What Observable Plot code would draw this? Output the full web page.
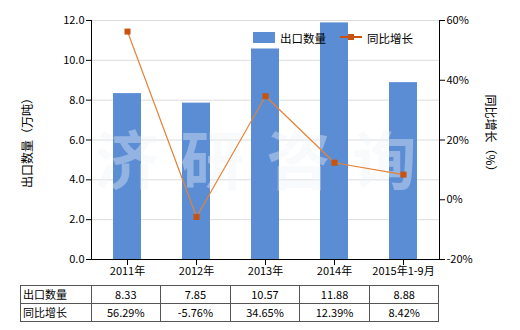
<!DOCTYPE html>
<html>
<head>
<meta charset="utf-8">
<script src="https://cdn.jsdelivr.net/npm/d3@7"></script>
<script src="https://cdn.jsdelivr.net/npm/@observablehq/plot@0.6"></script>
<style>
  html, body { margin: 0; padding: 0; background: #fff; }
  #wrap { position: relative; width: 520px; height: 330px; font-family: "Noto Sans CJK SC", "Noto Sans", sans-serif; color: #000; overflow: hidden; }
  #wrap svg { position: absolute; left: 0; top: 0; }
  .ytitle { position: absolute; font-size: 12px; white-space: nowrap; line-height: 14px; }
  .legend { position: absolute; font-size: 11.5px; line-height: 14px; white-space: nowrap; }
  table.dt { position: absolute; left: 20px; top: 285px; border-collapse: collapse; font-size: 11px; table-layout: fixed; }
  table.dt td { border: 1px solid #555; height: 17px; padding: 0; text-align: center; line-height: 15px; }
  table.dt td.h { text-align: left; padding-left: 2px; }
</style>
</head>
<body>
<div id="wrap"></div>
<script>
const categories = ["2011年", "2012年", "2013年", "2014年", "2015年1-9月"];
const exportVolume = [8.33, 7.85, 10.57, 11.88, 8.88];
const yoyGrowth = [56.29, -5.76, 34.65, 12.39, 8.42];
const volumeLabels = ["8.33", "7.85", "10.57", "11.88", "8.88"];
const growthLabels = ["56.29%", "-5.76%", "34.65%", "12.39%", "8.42%"];
const leftTicks = [0, 2, 4, 6, 8, 10, 12];
const rightTicks = [-20, 0, 20, 40, 60];
const rightTickLabels = ["-20%", "0%", "20%", "40%", "60%"];
const seriesNames = ["出口数量", "同比增长"];
const leftTitle = "出口数量（万吨）";
const rightTitle = "同比增长（%）";
const watermark = "济研咨询";

const barColor = "#5B8DD5";
const lineColor = "#E58235";
const markerColor = "#C8520E";

// map right-axis percentage onto left scale (0..12 <-> -20..60)
const toLeft = p => (p - rightTicks[0]) / (rightTicks[rightTicks.length - 1] - rightTicks[0]) * leftTicks[leftTicks.length - 1];

const data = categories.map((c, i) => ({cat: c, vol: exportVolume[i], pct: yoyGrowth[i], py: toLeft(yoyGrowth[i])}));

const plot = Plot.plot({
  width: 520,
  height: 282,
  marginLeft: 91,
  marginRight: 81,
  marginTop: 20,
  marginBottom: 23,
  style: {fontFamily: '"Noto Sans CJK SC", "Noto Sans", sans-serif', fontSize: "11px", color: "#000", background: "transparent"},
  x: {domain: categories, paddingInner: 0.6, paddingOuter: 0.3, label: null},
  y: {domain: [0, 12], label: null},
  marks: [
    Plot.gridY(leftTicks.slice(1), {stroke: "#dcdcdc", strokeOpacity: 1}),
    Plot.barY(data, {x: "cat", y: "vol", fill: barColor}),
    Plot.text([watermark], {frameAnchor: "middle", dx: 1, dy: 24, fontSize: 64, fontWeight: "bold", fill: "#eef2f6", fillOpacity: 0.38, text: d => d, className: "wm"}),
    Plot.line(data, {x: "cat", y: "py", stroke: lineColor, strokeWidth: 1.2}),
    Plot.dot(data, {x: "cat", y: "py", symbol: "square", r: 3.4, fill: markerColor, stroke: "none"}),
    Plot.axisY({anchor: "left", ticks: leftTicks, tickFormat: d => d.toFixed(1), tickSize: 5, tickPadding: 2, stroke: "#000", label: null}),
    Plot.axisY({anchor: "right", ticks: rightTicks.map(toLeft), tickFormat: (d, i) => rightTickLabels[i], tickSize: 5, tickPadding: 2, label: null}),
    Plot.axisX({tickSize: 6, tickPadding: 2, label: null}),
    Plot.frame({anchor: "left", stroke: "#000"}),
    Plot.frame({anchor: "right", stroke: "#000"}),
    Plot.ruleY([0], {stroke: "#000"})
  ]
});

// wider spacing of watermark characters
plot.querySelectorAll(".wm text").forEach(t => t.setAttribute("letter-spacing", "22"));

const wrap = document.getElementById("wrap");
wrap.appendChild(plot);

// axis titles
const lt = document.createElement("div");
lt.className = "ytitle";
lt.textContent = leftTitle;
wrap.appendChild(lt);
lt.style.left = (27 - lt.offsetWidth / 2) + "px";
lt.style.top = (140 - 7) + "px";
lt.style.transform = "rotate(-90deg)";

const rt = document.createElement("div");
rt.className = "ytitle";
rt.textContent = rightTitle;
wrap.appendChild(rt);
rt.style.left = (490 - rt.offsetWidth / 2) + "px";
rt.style.top = (136 - 7) + "px";
rt.style.transform = "rotate(90deg)";

// legend
const lg = document.createElement("div");
lg.innerHTML =
  `<div style="position:absolute;left:253px;top:32px;width:22px;height:11px;background:${barColor}"></div>` +
  `<div class="legend" style="left:280px;top:31px">${seriesNames[0]}</div>` +
  `<div style="position:absolute;left:340px;top:36px;width:22px;height:2px;background:${markerColor}"></div>` +
  `<div style="position:absolute;left:348px;top:34px;width:6px;height:6px;background:${markerColor}"></div>` +
  `<div class="legend" style="left:367px;top:31px">${seriesNames[1]}</div>`;
wrap.appendChild(lg);

// data table
const tbl = document.createElement("table");
tbl.className = "dt";
const colg = document.createElement("colgroup");
const firstW = 70.5, stepW = 69.6;
colg.innerHTML = `<col style="width:${firstW}px">` + categories.map(() => `<col style="width:${stepW}px">`).join("");
tbl.appendChild(colg);
const rows = [[seriesNames[0], volumeLabels], [seriesNames[1], growthLabels]];
rows.forEach(([name, vals]) => {
  const tr = document.createElement("tr");
  tr.innerHTML = `<td class="h">${name}</td>` + vals.map(v => `<td>${v}</td>`).join("");
  tbl.appendChild(tr);
});
wrap.appendChild(tbl);
</script>
</body>
</html>
